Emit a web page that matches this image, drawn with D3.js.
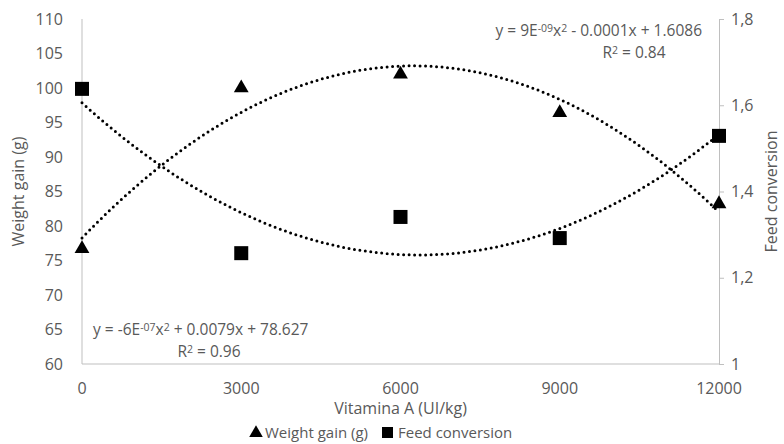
<!DOCTYPE html>
<html>
<head>
<meta charset="utf-8">
<script src="https://cdn.jsdelivr.net/npm/d3@7"></script>
<style>
  body { margin: 0; background: #fff; }
  text { font-family: "Open Sans", sans-serif; fill: #595959; }
</style>
</head>
<body>
<div id="chart"></div>
<script>
// data
const doses = [0, 3000, 6000, 9000, 12000];
const weightGain = [76.7, 100.0, 102.0, 96.4, 83.2];
const feedConversion = [1.638, 1.257, 1.341, 1.292, 1.529];
const xTicks = [0, 3000, 6000, 9000, 12000];
const leftTicks = [60, 65, 70, 75, 80, 85, 90, 95, 100, 105, 110];
const rightTicks = [1, 1.2, 1.4, 1.6, 1.8];

const width = 784, height = 444;
const m = { left: 82, right: 65, top: 19, bottom: 80 };

const svg = d3.select("#chart").append("svg")
    .attr("width", width)
    .attr("height", height);

const x = d3.scaleLinear().domain([0, 12000]).range([m.left, width - m.right]);
const yL = d3.scaleLinear().domain([60, 110]).range([height - m.bottom, m.top]);
const yR = d3.scaleLinear().domain([1, 1.8]).range([height - m.bottom, m.top]);

// quadratic least squares for the trendlines
function quadFit(xs, ys) {
    const n = xs.length;
    let s = [0, 0, 0, 0, 0], t = [0, 0, 0];
    for (let i = 0; i < n; i++) {
        for (let k = 0; k < 5; k++) s[k] += Math.pow(xs[i], k);
        for (let k = 0; k < 3; k++) t[k] += ys[i] * Math.pow(xs[i], k);
    }
    const A = [[s[0], s[1], s[2], t[0]], [s[1], s[2], s[3], t[1]], [s[2], s[3], s[4], t[2]]];
    for (let i = 0; i < 3; i++) {
        for (let j = i + 1; j < 3; j++) {
            const f = A[j][i] / A[i][i];
            for (let k = i; k < 4; k++) A[j][k] -= f * A[i][k];
        }
    }
    const c = [0, 0, 0];
    for (let i = 2; i >= 0; i--) {
        let v = A[i][3];
        for (let k = i + 1; k < 3; k++) v -= A[i][k] * c[k];
        c[i] = v / A[i][i];
    }
    return xv => c[0] + c[1] * xv + c[2] * xv * xv;
}

const grey = "#bfbfbf";

// axes
svg.append("line").attr("x1", x(0)).attr("x2", x(0))
    .attr("y1", yL(110)).attr("y2", yL(60)).attr("stroke", grey);
svg.append("line").attr("x1", x(0)).attr("x2", x(12000))
    .attr("y1", yL(60)).attr("y2", yL(60)).attr("stroke", grey);

const rightAxis = svg.append("g")
    .attr("transform", `translate(${x(12000)},0)`)
    .call(d3.axisRight(yR).tickValues(rightTicks).tickSize(5).tickPadding(7)
        .tickFormat(d => d3.format("~g")(d).replace(".", ",")));
rightAxis.select(".domain").attr("stroke", grey);
rightAxis.selectAll(".tick line").attr("stroke", grey);
rightAxis.selectAll("text").attr("font-size", 16).attr("font-family", "Open Sans").attr("fill", "#595959");

svg.selectAll(".ltick").data(leftTicks).enter().append("text")
    .attr("x", x(0) - 19).attr("y", d => yL(d)).attr("dy", "0.35em")
    .attr("text-anchor", "end").attr("font-size", 16).text(d => d);

svg.selectAll(".xtick").data(xTicks).enter().append("text")
    .attr("x", d => x(d)).attr("y", yL(60) + 30)
    .attr("text-anchor", "middle").attr("font-size", 16).text(d => d);

// axis titles
svg.append("text").attr("x", (x(0) + x(12000)) / 2).attr("y", 414)
    .attr("text-anchor", "middle").attr("font-size", 16).text("Vitamina A (UI/kg)");
svg.append("text").attr("transform", `translate(24,${(yL(60) + yL(110)) / 2}) rotate(-90)`)
    .attr("text-anchor", "middle").attr("font-size", 16).text("Weight gain (g)");
svg.append("text").attr("transform", `translate(777,${(yL(60) + yL(110)) / 2}) rotate(-90)`)
    .attr("text-anchor", "middle").attr("font-size", 16).text("Feed conversion");

// trendlines
const xs = d3.range(0, 12001, 100);
const wFit = quadFit(doses, weightGain);
const fFit = quadFit(doses, feedConversion);
svg.append("path").datum(xs)
    .attr("d", d3.line().x(d => x(d)).y(d => yL(wFit(d))))
    .attr("fill", "none").attr("stroke", "#000").attr("stroke-width", 3)
    .attr("stroke-linecap", "round").attr("stroke-dasharray", "0 5.5");
svg.append("path").datum(xs)
    .attr("d", d3.line().x(d => x(d)).y(d => yR(fFit(d))))
    .attr("fill", "none").attr("stroke", "#000").attr("stroke-width", 3)
    .attr("stroke-linecap", "round").attr("stroke-dasharray", "0 5.5");

// markers
const tri = d3.symbol().type(d3.symbolTriangle).size(95);
svg.selectAll(".tri").data(doses).enter().append("path")
    .attr("d", tri)
    .attr("transform", (d, i) => `translate(${x(d)},${yL(weightGain[i])})`)
    .attr("fill", "#000");
svg.selectAll(".sq").data(doses).enter().append("rect")
    .attr("x", d => x(d) - 7)
    .attr("y", (d, i) => yR(feedConversion[i]) - 7)
    .attr("width", 14).attr("height", 14)
    .attr("fill", "#000");

// equations
function equation(xp, yp, anchor, parts) {
    const t = svg.append("text").attr("x", xp).attr("y", yp)
        .attr("text-anchor", anchor).attr("font-size", 15.5);
    parts.forEach(p => {
        const s = t.append("tspan").text(p[0]);
        if (p[1]) s.attr("baseline-shift", "35%").attr("font-size", 10.5);
    });
}
equation(702, 36, "end", [["y = 9E"], ["-09", 1], ["x"], ["2", 1], [" - 0.0001x + 1.6086"]]);
equation(634, 58, "middle", [["R"], ["2", 1], [" = 0.84"]]);
equation(93, 335, "start", [["y = -6E"], ["-07", 1], ["x"], ["2", 1], [" + 0.0079x + 78.627"]]);
equation(209, 357, "middle", [["R"], ["2", 1], [" = 0.96"]]);

// legend
const lg = svg.append("g").attr("transform", "translate(0,438)");
lg.append("path").attr("d", d3.symbol().type(d3.symbolTriangle).size(80))
    .attr("transform", "translate(256,-5)").attr("fill", "#000");
lg.append("text").attr("x", 265).attr("y", 0).attr("font-size", 15).text("Weight gain (g)");
lg.append("rect").attr("x", 382).attr("y", -11).attr("width", 11).attr("height", 11).attr("fill", "#000");
lg.append("text").attr("x", 398).attr("y", 0).attr("font-size", 15).text("Feed conversion");
</script>
</body>
</html>
